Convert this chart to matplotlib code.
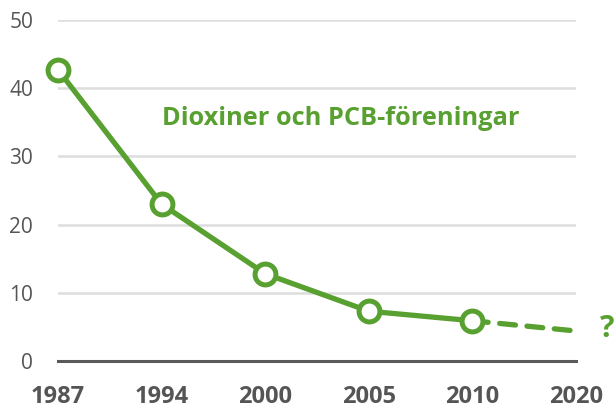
import matplotlib
matplotlib.use("Agg")
import matplotlib.pyplot as plt

years = ["1987", "1994", "2000", "2005", "2010", "2020"]
values = [42.7, 23.0, 12.8, 7.3, 5.9]
proj_values = [5.9, 4.4]
yticks = [0, 10, 20, 30, 40, 50]
label = "Dioxiner och PCB-föreningar"

green = "#58a030"
grey = "#555555"

plt.rcParams['font.family'] = ['Open Sans', 'DejaVu Sans']

fig = plt.figure(figsize=(6.14, 4.09), dpi=100)
ax = fig.add_axes([0.0945, 0.1174, 0.8435, 0.8336])

x = list(range(len(values)))
ax.plot([x[-1], x[-1] + 1], proj_values, color=green, lw=3.8, ls=(0, (3, 2.2)),
        solid_capstyle='round', dash_capstyle='round', clip_on=False, zorder=2)
ax.plot(x, values, color=green, lw=3.8, marker='o', ms=15, mfc='white',
        mec=green, mew=3.6, clip_on=False, zorder=3)

ax.set_xlim(0, 5)
ax.set_ylim(0, 50)
ax.set_yticks(yticks)
ax.set_yticklabels([str(v) for v in yticks], fontsize=15, color=grey)
ax.set_xticks(range(len(years)))
ax.set_xticklabels(years, fontsize=17, fontweight='bold', color=grey)
ax.tick_params(axis='both', length=0)
ax.tick_params(axis='y', pad=18)
ax.tick_params(axis='x', pad=17)
ax.grid(axis='y', color='#dddddd', lw=1.8)
ax.set_axisbelow(True)
for s in ['top', 'right', 'left']:
    ax.spines[s].set_visible(False)
ax.spines['bottom'].set_color('#5a5a5a')
ax.spines['bottom'].set_linewidth(2.2)
ax.spines['bottom'].set_zorder(1)

ax.text(1.0, 35.6, label, color=green, fontsize=18.3, fontweight='bold', va='center', ha='left')
ax.text(5.30, 4.7, "?", color=green, fontsize=22, fontweight='bold', va='center', ha='center',
        clip_on=False)

fig.savefig("out.png", dpi=100)
